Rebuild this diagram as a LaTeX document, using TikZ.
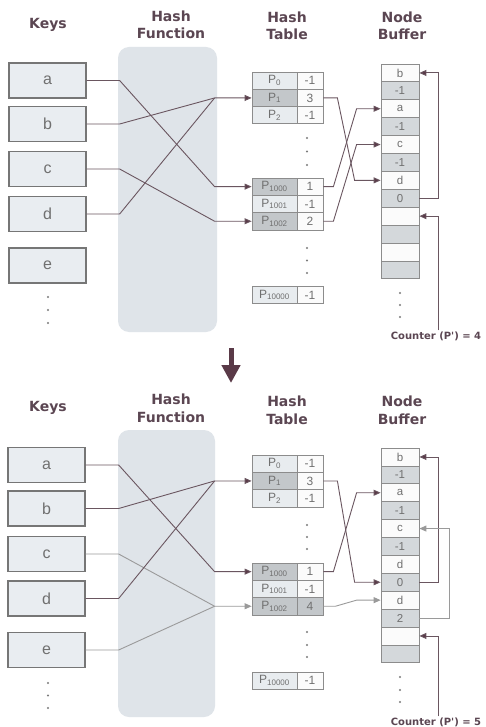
\documentclass[tikz,border=0pt]{standalone}
\usepackage{fontspec}
\setmainfont{Liberation Sans}
\newfontfamily\hdrfont{DejaVu Sans}
\usetikzlibrary{arrows.meta}
\definecolor{hdrcol}{HTML}{5B4652}
\definecolor{keyfill}{HTML}{E9EDF1}
\definecolor{boxline}{HTML}{767676}
\definecolor{panelfill}{HTML}{DFE4E9}
\definecolor{cellline}{HTML}{8C8C8C}
\definecolor{lightcell}{HTML}{E8ECEF}
\definecolor{darkcell}{HTML}{C3C7CA}
\definecolor{whitecell}{HTML}{FBFBFB}
\definecolor{bufgray}{HTML}{D4D8DB}
\definecolor{txtgray}{HTML}{707070}
\definecolor{linecol}{HTML}{6A5660}
\definecolor{tipcol}{HTML}{5A3A48}
\definecolor{lightline}{HTML}{9A9A9A}
\definecolor{dotcol}{HTML}{7A7A7A}
\newcommand\htrow[6]{%
  \node[hlab, fill=#5] (#1l) at (274.5,#2) {#3};
  \node[hval, fill=#6] (#1v) at (310,#2) {#4};}
\newcommand\bcell[4]{%
  \node[bufcell, fill=#4] (#1) at (400,#2) {#3};}
\begin{document}
\begin{tikzpicture}[x=1pt,y=-1pt,
  hdr/.style={font=\hdrfont\bfseries\fontsize{14}{17.5}\selectfont, text=hdrcol, align=center, inner sep=0},
  cnt/.style={font=\hdrfont\bfseries\fontsize{10}{12}\selectfont, text=hdrcol, inner sep=1pt},
  keybox/.style={draw=boxline, line width=1.3pt, fill=keyfill, minimum width=77pt, minimum height=35pt, inner sep=0, font=\fontsize{16}{16}\selectfont, text=txtgray},
  hfpanel/.style={fill=panelfill, rounded corners=11pt, inner sep=0},
  hlab/.style={draw=cellline, line width=0.8pt, minimum width=45pt, minimum height=17.3pt, inner sep=0, font=\fontsize{12}{12}\selectfont, text=txtgray},
  hval/.style={draw=cellline, line width=0.8pt, minimum width=26pt, minimum height=17.3pt, inner sep=0, font=\fontsize{12}{12}\selectfont, text=txtgray},
  bufcell/.style={draw=cellline, line width=0.8pt, minimum width=38pt, minimum height=17.9pt, inner sep=0, font=\fontsize{11.5}{11.5}\selectfont, text=txtgray},
  conn/.style={draw=linecol, line width=0.9pt, -{Triangle[length=7pt,width=6pt,fill=tipcol]}},
  plain/.style={draw=linecol, line width=0.9pt},
  lconn/.style={draw=lightline, line width=0.9pt, -{Triangle[length=7pt,width=6pt,fill=lightline]}},
  lplain/.style={draw=lightline, line width=0.9pt},
  dot/.style={fill=dotcol}
]
\useasboundingbox (0,0) rectangle (486,727);
\fill[white] (0,0) rectangle (486,727);

% ================= TOP PANEL =================
\node[hdr] (hk1) at (48,25) {Keys};
\node[hdr] (hf1) at (171,25) {Hash\\Function};
\node[hdr] (ht1) at (287,26) {Hash\\Table};
\node[hdr] (hb1) at (402,26) {Node\\Buffer};

\node[hfpanel, minimum width=99pt, minimum height=285pt] (pan1) at (167.5,189.5) {};

\node[keybox] (ka1) at (47.5,80.5) {a};
\node[keybox] (kb1) at (47.5,124) {b};
\node[keybox] (kc1) at (47.5,169) {c};
\node[keybox] (kd1) at (47.5,214) {d};
\node[keybox] (ke1) at (47.5,265.5) {e};
\fill[dot] (48,297) circle (1.2); \fill[dot] (48,310) circle (1.2); \fill[dot] (48,323) circle (1.2);

\htrow{t0}{80.65}{P\textsubscript{0}}{-1}{lightcell}{whitecell}
\htrow{t1}{97.95}{P\textsubscript{1}}{3}{darkcell}{whitecell}
\htrow{t2}{115.25}{P\textsubscript{2}}{-1}{lightcell}{whitecell}
\fill[dot] (307,138) circle (1.1); \fill[dot] (307,151.5) circle (1.1); \fill[dot] (307,165) circle (1.1);
\htrow{t1000}{186.65}{P\textsubscript{1000}}{1}{darkcell}{whitecell}
\htrow{t1001}{203.95}{P\textsubscript{1001}}{-1}{lightcell}{whitecell}
\htrow{t1002}{221.25}{P\textsubscript{1002}}{2}{darkcell}{whitecell}
\fill[dot] (307,248) circle (1.1); \fill[dot] (307,260.5) circle (1.1); \fill[dot] (307,273) circle (1.1);
\htrow{t10000}{295}{P\textsubscript{10000}}{-1}{lightcell}{whitecell}

\bcell{b1t}{72.95}{b}{whitecell}
\bcell{b2t}{90.85}{-1}{bufgray}
\bcell{b3t}{108.75}{a}{whitecell}
\bcell{b4t}{126.65}{-1}{bufgray}
\bcell{b5t}{144.55}{c}{whitecell}
\bcell{b6t}{162.45}{-1}{bufgray}
\bcell{b7t}{180.35}{d}{whitecell}
\bcell{b8t}{198.25}{0}{bufgray}
\bcell{b9t}{216.15}{}{whitecell}
\bcell{b10t}{234.05}{}{bufgray}
\bcell{b11t}{251.95}{}{whitecell}
\bcell{b12t}{269.85}{}{bufgray}
\fill[dot] (400,293) circle (1.1); \fill[dot] (400,305) circle (1.1); \fill[dot] (400,317) circle (1.1);

\draw[conn] (ka1.east) -- ++(33,0) -- ([xshift=-37pt]t1000l.west) -- (t1000l.west);
\draw[conn] (kb1.east) -- ++(33,0) -- ([xshift=-37pt]t1l.west) -- (t1l.west);
\draw[conn] (kc1.east) -- ++(33,0) -- ([xshift=-37pt]t1002l.west) -- (t1002l.west);
\draw[plain] (kd1.east) -- ++(33,0) -- ([xshift=-37pt]t1l.west);

\draw[conn] (t1v.east) -- ++(14,0) -- ([xshift=-26pt]b7t.west) -- (b7t.west);
\draw[conn] (t1000v.east) -- ++(10,0) -- ([xshift=-24pt]b3t.west) -- (b3t.west);
\draw[conn] (t1002v.east) -- ++(10,0) -- ([xshift=-24pt]b5t.west) -- (b5t.west);
\draw[conn] (b8t.east) -- ++(19,0) |- (b1t.east);

\node[cnt] (cnt1) at (436,336) {Counter (P') = 4};
\draw[conn] ([xshift=2pt]cnt1.north) |- (b9t.east);

% ================= ARROW =================
\draw[draw=tipcol, line width=5pt, -{Triangle[length=18pt,width=18pt,fill=tipcol]}] (231,348) -- (231,383);

% ================= BOTTOM PANEL =================
\node[hdr] (hk2) at (48,408) {Keys};
\node[hdr] (hf2) at (171,408.5) {Hash\\Function};
\node[hdr] (ht2) at (287,410.5) {Hash\\Table};
\node[hdr] (hb2) at (402,410.5) {Node\\Buffer};

\node[hfpanel, minimum width=97pt, minimum height=287pt] (pan2) at (166.5,573.5) {};

\node[keybox] (ka2) at (46.5,465) {a};
\node[keybox] (kb2) at (46.5,508.5) {b};
\node[keybox] (kc2) at (46.5,554) {c};
\node[keybox] (kd2) at (46.5,598.5) {d};
\node[keybox] (ke2) at (46.5,650) {e};
\fill[dot] (48,683) circle (1.2); \fill[dot] (48,695.5) circle (1.2); \fill[dot] (48,708) circle (1.2);

\htrow{u0}{463.65}{P\textsubscript{0}}{-1}{lightcell}{whitecell}
\htrow{u1}{480.95}{P\textsubscript{1}}{3}{darkcell}{whitecell}
\htrow{u2}{498.25}{P\textsubscript{2}}{-1}{lightcell}{whitecell}
\fill[dot] (307,525) circle (1.1); \fill[dot] (307,537) circle (1.1); \fill[dot] (307,549) circle (1.1);
\htrow{u1000}{571.65}{P\textsubscript{1000}}{1}{darkcell}{whitecell}
\htrow{u1001}{588.95}{P\textsubscript{1001}}{-1}{lightcell}{whitecell}
\htrow{u1002}{606.25}{P\textsubscript{1002}}{4}{darkcell}{darkcell}
\fill[dot] (307,632) circle (1.1); \fill[dot] (307,645) circle (1.1); \fill[dot] (307,657) circle (1.1);
\htrow{u10000}{680.65}{P\textsubscript{10000}}{-1}{lightcell}{whitecell}

\bcell{b1u}{456.95}{b}{whitecell}
\bcell{b2u}{474.85}{-1}{bufgray}
\bcell{b3u}{492.75}{a}{whitecell}
\bcell{b4u}{510.65}{-1}{bufgray}
\bcell{b5u}{528.55}{c}{whitecell}
\bcell{b6u}{546.45}{-1}{bufgray}
\bcell{b7u}{564.35}{d}{whitecell}
\bcell{b8u}{582.25}{0}{bufgray}
\bcell{b9u}{600.15}{d}{whitecell}
\bcell{b10u}{618.05}{2}{bufgray}
\bcell{b11u}{635.95}{}{whitecell}
\bcell{b12u}{653.85}{}{bufgray}
\fill[dot] (400,677) circle (1.1); \fill[dot] (400,690) circle (1.1); \fill[dot] (400,702) circle (1.1);

\draw[conn] (ka2.east) -- ++(33,0) -- ([xshift=-37pt]u1000l.west) -- (u1000l.west);
\draw[conn] (kb2.east) -- ++(33,0) -- ([xshift=-37pt]u1l.west) -- (u1l.west);
\draw[lconn] (kc2.east) -- ++(33,0) -- ([xshift=-37pt]u1002l.west) -- (u1002l.west);
\draw[plain] (kd2.east) -- ++(33,0) -- ([xshift=-37pt]u1l.west);
\draw[lplain] (ke2.east) -- ++(33,0) -- ([xshift=-37pt]u1002l.west);

\draw[conn] (u1v.east) -- ++(14,0) -- ([xshift=-26pt]b8u.west) -- (b8u.west);
\draw[conn] (u1000v.east) -- ++(10,0) -- ([xshift=-24pt]b3u.west) -- (b3u.west);
\draw[lconn] (u1002v.east) -- ++(12,0) -- ([xshift=-24pt]b9u.west) -- (b9u.west);
\draw[conn] (b8u.east) -- ++(19,0) |- (b1u.east);
\draw[lconn] (b10u.east) -- ++(30,0) |- (b5u.east);

\node[cnt] (cnt2) at (436,722) {Counter (P') = 5};
\draw[conn] ([xshift=2pt]cnt2.north) |- (b11u.east);
\end{tikzpicture}
\end{document}
